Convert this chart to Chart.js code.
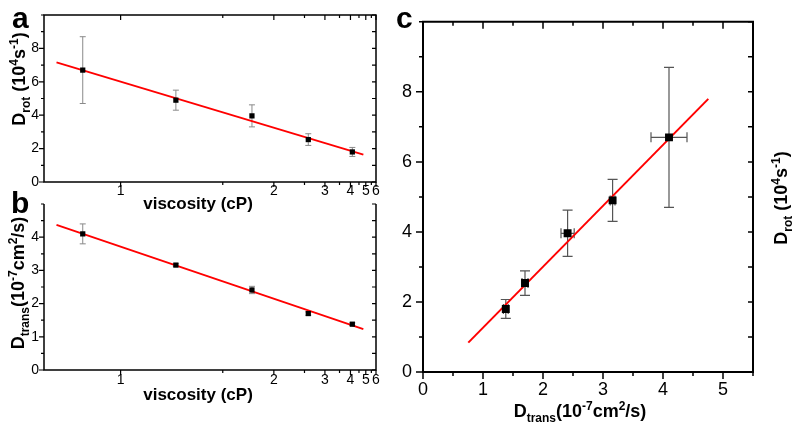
<!DOCTYPE html>
<html><head><meta charset="utf-8">
<script src="https://cdn.jsdelivr.net/npm/chart.js@4.4.1/dist/chart.umd.min.js"></script>
<style>
html,body{margin:0;padding:0;background:#fff;}
#wrap{position:relative;width:800px;height:430px;background:#fff;}
canvas{position:absolute;left:0;top:0;}
</style></head><body>
<div id="wrap">
<canvas id="ca" width="800" height="430"></canvas>
<canvas id="cb" width="800" height="430"></canvas>
<canvas id="cc" width="800" height="430"></canvas>
</div>
<script>
// ---------- data ----------
const viscosity   = [0.89, 1.22, 1.75, 2.58, 4.10];          // cP
const dRot        = [6.70, 4.90, 3.96, 2.54, 1.80];          // 10^4 s^-1
const dRotErr     = [2.00, 0.60, 0.66, 0.35, 0.27];
const dTrans      = [4.10, 3.16, 2.41, 1.70, 1.38];          // 10^-7 cm^2/s
const dTransErr   = [0.30, 0.04, 0.11, 0.05, 0.04];

const fitViscosity = [0.827, 4.81];
const fitDRot      = [7.16, 1.64];
const fitDTrans    = [4.37, 1.23];
const fitTransC    = [0.755, 4.755];
const fitRotC      = [0.84, 7.80];

const viscTicks      = [1, 1.5, 2, 2.5, 3, 3.5, 4, 4.5, 5, 5.5, 6];
const viscTickLabels = ['1','','2','','3','','4','','5','','6'];
const rotTicks       = [0,1,2,3,4,5,6,7,8,9,10];
const rotTickLabels  = ['0','','2','','4','','6','','8','',''];
const transTicksB    = [0,0.5,1,1.5,2,2.5,3,3.5,4,4.5,5];
const transLabelsB   = ['0','','1','','2','','3','','4','',''];
const transTicksC    = [0,0.5,1,1.5,2,2.5,3,3.5,4,4.5,5,5.5];
const transLabelsC   = ['0','','1','','2','','3','','4','','5',''];

// ---------- helpers ----------
const FF = '"Liberation Sans", Arial, Helvetica, sans-serif';
const W = 800, H = 430;

function tickScale(vals, labels, o) {
  const s = {
    type: 'linear',
    bounds: 'data',
    min: o.min, max: o.max,
    reverse: !!o.reverse,
    grid: { display: false, drawTicks: false },
    border: { display: false },
    afterBuildTicks: sc => { sc.ticks = vals.map(v => ({ value: o.map ? o.map(v) : v })); },
    ticks: {
      autoSkip: false, maxRotation: 0, minRotation: 0, color: '#000',
      font: { family: FF, size: o.fontSize }, padding: o.padding,
      callback: (v, i) => labels[i]
    },
    afterFit: sc => {
      if (o.width != null) sc.width = o.width;
      if (o.height != null) sc.height = o.height;
    }
  };
  return s;
}

function framePlugin(o) {
  return {
    id: 'frameTicks',
    afterDatasetsDraw(chart) {
      const { ctx, chartArea: a, scales: { x, y } } = chart;
      ctx.save();
      ctx.strokeStyle = '#000';
      ctx.lineWidth = o.tickW;
      ctx.beginPath();
      x.ticks.forEach(t => {
        const px = x.getPixelForValue(t.value);
        const L = (t.label !== '' ? o.major : o.minor);
        if (o.bottom) { ctx.moveTo(px, a.bottom); ctx.lineTo(px, a.bottom + L); }
        if (o.top)    { ctx.moveTo(px, a.top);    ctx.lineTo(px, a.top + L); }
      });
      y.ticks.forEach(t => {
        const py = y.getPixelForValue(t.value);
        const L = (t.label !== '' ? o.major : o.minor);
        if (o.left)  { ctx.moveTo(a.left, py);  ctx.lineTo(a.left - L, py); }
        if (o.right) { ctx.moveTo(a.right, py); ctx.lineTo(a.right - o.rightLen, py); }
      });
      ctx.stroke();
      ctx.lineWidth = o.frameW;
      ctx.beginPath();
      if (o.top)    { ctx.moveTo(a.left, a.top); ctx.lineTo(a.right, a.top); }
      if (o.bottom) { ctx.moveTo(a.left - o.frameW/2, a.bottom); ctx.lineTo(a.right + o.frameW/2, a.bottom); }
      if (o.left)   { ctx.moveTo(a.left, a.top - (o.top ? o.frameW/2 : 0)); ctx.lineTo(a.left, a.bottom); }
      if (o.right)  { ctx.moveTo(a.right, a.top - (o.top ? o.frameW/2 : 0)); ctx.lineTo(a.right, a.bottom); }
      ctx.stroke();
      ctx.restore();
    }
  };
}

function errorPlugin(o) {
  return {
    id: 'errorBars',
    beforeDatasetsDraw(chart) {
      const { ctx, scales: { x, y } } = chart;
      const pts = chart.data.datasets[0].data;
      ctx.save();
      ctx.strokeStyle = o.color;
      ctx.lineWidth = o.width;
      ctx.beginPath();
      pts.forEach((p, i) => {
        const px = x.getPixelForValue(p.x), py = y.getPixelForValue(p.y);
        if (o.yErr) {
          const e = o.yErr[i];
          const y1 = y.getPixelForValue(p.y + e), y2 = y.getPixelForValue(p.y - e);
          ctx.moveTo(px, y1); ctx.lineTo(px, y2);
          ctx.moveTo(px - o.cap, y1); ctx.lineTo(px + o.cap, y1);
          ctx.moveTo(px - o.cap, y2); ctx.lineTo(px + o.cap, y2);
        }
        if (o.xErr) {
          const e = o.xErr[i];
          const x1 = x.getPixelForValue(p.x - e), x2 = x.getPixelForValue(p.x + e);
          ctx.moveTo(x1, py); ctx.lineTo(x2, py);
          ctx.moveTo(x1, py - o.cap); ctx.lineTo(x1, py + o.cap);
          ctx.moveTo(x2, py - o.cap); ctx.lineTo(x2, py + o.cap);
        }
      });
      ctx.stroke();
      ctx.restore();
    }
  };
}

function textPlugin(items) {
  return {
    id: 'richText',
    afterDraw(chart) {
      const ctx = chart.ctx;
      items.forEach(it => {
        ctx.save();
        ctx.translate(it.x, it.y);
        if (it.rot) ctx.rotate(it.rot);
        ctx.fillStyle = '#000';
        ctx.textBaseline = 'alphabetic';
        ctx.textAlign = 'left';
        const F = it.size;
        const segs = it.segs.map(([t, k]) => {
          const sz = k === 'n' ? F : Math.round(F * 0.65);
          const font = 'bold ' + sz + 'px ' + FF;
          ctx.font = font;
          return { t, font, w: ctx.measureText(t).width,
                   dy: k === 'b' ? F * 0.3 : (k === 'p' ? -F * 0.4 : 0) };
        });
        const total = segs.reduce((s, g) => s + g.w, 0);
        let xx = it.align === 'left' ? 0 : -total / 2;
        segs.forEach(g => { ctx.font = g.font; ctx.fillText(g.t, xx, g.dy); xx += g.w; });
        ctx.restore();
      });
    }
  };
}

function padFor(area, yW, xH) {
  return { left: area.l - yW, top: area.t, right: W - area.r, bottom: H - area.b - xH };
}

const baseOpts = {
  responsive: false, animation: false, devicePixelRatio: 1, events: [],
};

const rotTitle = [['D','n'],['rot','b'],[' (10','n'],['4','p'],['s','n'],['-1','p'],[')','n']];
const transTitle = [['D','n'],['trans','b'],['(10','n'],['-7','p'],['cm','n'],['2','p'],['/s)','n']];
const viscTitle = [['viscosity (cP)','n']];

// ---------- panel a ----------
const areaA = { l: 44, t: 15, r: 376, b: 182 };
new Chart(document.getElementById('ca'), {
  type: 'scatter',
  data: { datasets: [
    { data: viscosity.map((v, i) => ({ x: 1 / v, y: dRot[i] })), pointStyle: 'rect',
      pointRadius: 3.7, pointBackgroundColor: '#000', pointBorderWidth: 0, showLine: false },
    { data: fitViscosity.map((v, i) => ({ x: 1 / v, y: fitDRot[i] })), showLine: true,
      pointRadius: 0, borderColor: '#ff0000', borderWidth: 1.8 }
  ]},
  options: Object.assign({}, baseOpts, {
    layout: { padding: padFor(areaA, 40, 30) },
    plugins: { legend: { display: false }, tooltip: { enabled: false } },
    scales: {
      x: tickScale(viscTicks, viscTickLabels, { min: 1/6, max: 1/0.8, reverse: true, map: v => 1 / v, fontSize: 14, padding: 1, height: 30 }),
      y: tickScale(rotTicks, rotTickLabels, { min: 0, max: 10, fontSize: 14, padding: 5, width: 40 })
    }
  }),
  plugins: [
    errorPlugin({ yErr: dRotErr, color: '#8a8a8a', width: 1, cap: 3 }),
    framePlugin({ top: true, bottom: true, left: true, right: true, major: 5, minor: 3, rightLen: 4, tickW: 1.2, frameW: 1.5 }),
    textPlugin([
      { segs: [['a','n']], size: 30, x: 12, y: 28, align: 'left' },
      { segs: rotTitle, size: 18, x: 25, y: 79, rot: -Math.PI / 2 },
      { segs: viscTitle, size: 17, x: 198, y: 209 }
    ])
  ]
});

// ---------- panel b ----------
const areaB = { l: 44, t: 204, r: 376, b: 370 };
new Chart(document.getElementById('cb'), {
  type: 'scatter',
  data: { datasets: [
    { data: viscosity.map((v, i) => ({ x: 1 / v, y: dTrans[i] })), pointStyle: 'rect',
      pointRadius: 3.7, pointBackgroundColor: '#000', pointBorderWidth: 0, showLine: false },
    { data: fitViscosity.map((v, i) => ({ x: 1 / v, y: fitDTrans[i] })), showLine: true,
      pointRadius: 0, borderColor: '#ff0000', borderWidth: 1.8 }
  ]},
  options: Object.assign({}, baseOpts, {
    layout: { padding: padFor(areaB, 40, 30) },
    plugins: { legend: { display: false }, tooltip: { enabled: false } },
    scales: {
      x: tickScale(viscTicks, viscTickLabels, { min: 1/6, max: 1/0.8, reverse: true, map: v => 1 / v, fontSize: 14, padding: 2, height: 30 }),
      y: tickScale(transTicksB, transLabelsB, { min: 0, max: 5, fontSize: 14, padding: 5, width: 40 })
    }
  }),
  plugins: [
    errorPlugin({ yErr: dTransErr, color: '#8a8a8a', width: 1, cap: 3 }),
    framePlugin({ top: false, bottom: true, left: true, right: true, major: 5, minor: 3, rightLen: 4, tickW: 1.2, frameW: 1.5 }),
    textPlugin([
      { segs: [['b','n']], size: 30, x: 11, y: 213, align: 'left' },
      { segs: transTitle, size: 18, x: 24, y: 283, rot: -Math.PI / 2 },
      { segs: viscTitle, size: 17, x: 198, y: 400 }
    ])
  ]
});

// ---------- panel c ----------
const areaC = { l: 423, t: 16, r: 753, b: 372 };
new Chart(document.getElementById('cc'), {
  type: 'scatter',
  data: { datasets: [
    { data: dTrans.map((v, i) => ({ x: v, y: dRot[i] })), pointStyle: 'rect',
      pointRadius: 5.6, pointBackgroundColor: '#000', pointBorderWidth: 0, showLine: false },
    { data: fitTransC.map((v, i) => ({ x: v, y: fitRotC[i] })), showLine: true,
      pointRadius: 0, borderColor: '#ff0000', borderWidth: 2 }
  ]},
  options: Object.assign({}, baseOpts, {
    layout: { padding: padFor(areaC, 40, 40) },
    plugins: { legend: { display: false }, tooltip: { enabled: false } },
    scales: {
      x: tickScale(transTicksC, transLabelsC, { min: 0, max: 5.5, fontSize: 18, padding: 7, height: 40 }),
      y: tickScale(rotTicks, rotTickLabels, { min: 0, max: 10, fontSize: 18, padding: 11, width: 40 })
    }
  }),
  plugins: [
    errorPlugin({ yErr: dRotErr, xErr: dTransErr, color: '#555555', width: 1.2, cap: 5 }),
    framePlugin({ top: true, bottom: true, left: true, right: true, major: 7, minor: 4, rightLen: 5, tickW: 1.5, frameW: 2 }),
    textPlugin([
      { segs: [['c','n']], size: 30, x: 396, y: 28, align: 'left' },
      { segs: transTitle, size: 18, x: 580, y: 417 },
      { segs: rotTitle, size: 18, x: 787, y: 198, rot: -Math.PI / 2 }
    ])
  ]
});
</script>
</body></html>
